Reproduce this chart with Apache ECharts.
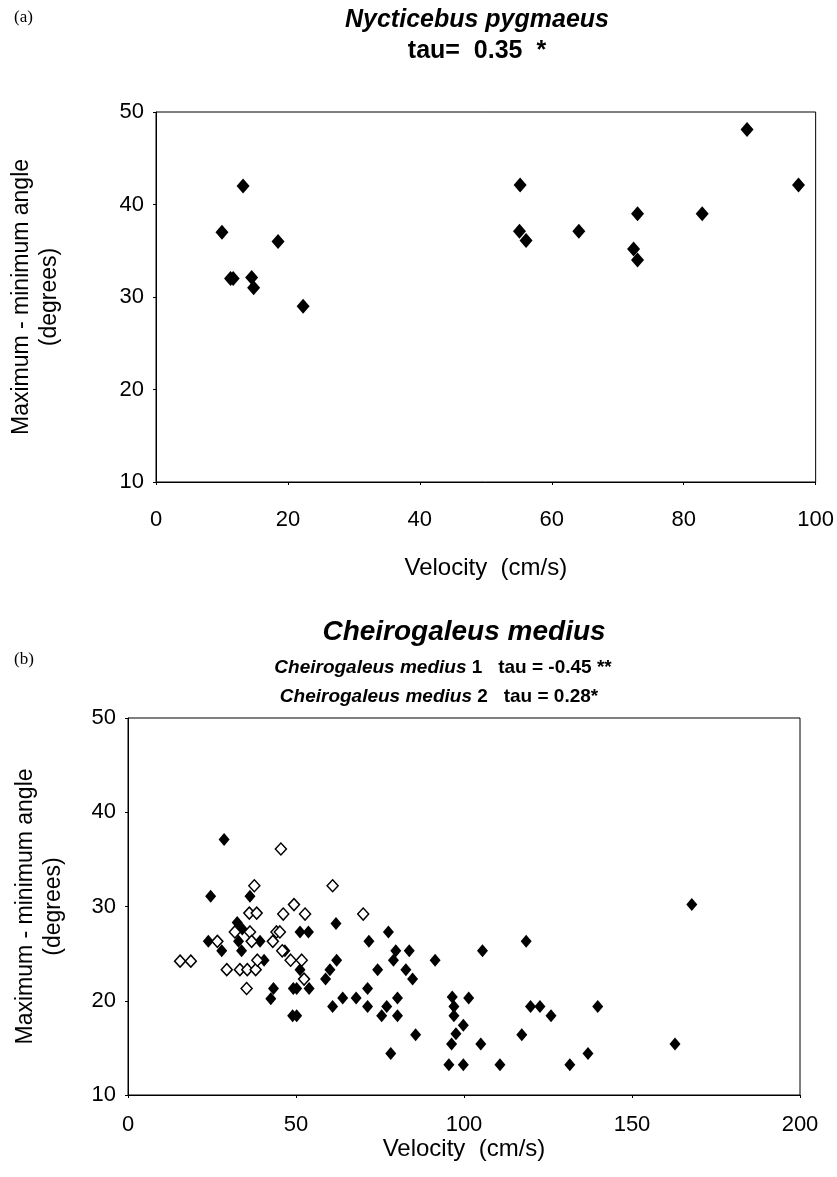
<!DOCTYPE html>
<html>
<head>
<meta charset="utf-8">
<script src="https://cdn.jsdelivr.net/npm/echarts@6.0.0/dist/echarts.min.js"></script>
<style>
  html, body { margin: 0; padding: 0; background: #fff; }
  #chart { width: 837px; height: 1177px; }
</style>
</head>
<body>
<div id="chart"></div>
<script>
// (a) Nycticebus pygmaeus
const pygmaeusVelocity = [10.0, 11.3, 11.7, 13.2, 14.5, 14.8, 18.5, 22.3, 55.2, 55.1, 56.1, 64.1, 72.4, 73.0, 73.0, 82.8, 89.6, 97.4];
const pygmaeusAngle    = [37.0, 32.0, 32.0, 42.0, 32.1, 31.0, 36.0, 29.0, 42.1, 37.1, 36.1, 37.1, 35.2, 34.0, 39.0, 39.0, 48.1, 42.1];

// (b) Cheirogaleus medius 1 (filled diamonds)
const medius1Velocity = [28.6, 24.6, 36.3, 32.5, 23.9, 27.9, 32.9, 33.8, 39.3, 40.5, 46.7, 51.2, 53.7, 61.9, 71.7, 77.5,
  79.7, 83.7, 79.0, 82.7, 84.7, 74.3, 62.1, 60.1, 58.8, 51.2, 43.3, 42.5, 49.2, 50.2, 53.9, 63.9, 67.9, 71.3, 60.9, 71.3,
  77.0, 80.2, 75.5, 80.2, 49.0, 50.2, 85.6, 78.2, 167.8, 118.5, 105.5, 91.4, 96.5, 101.4, 97.0, 119.8, 122.6, 125.9, 139.8,
  97.0, 99.8, 97.6, 96.3, 105.0, 117.2, 162.8, 136.9, 95.5, 99.8, 110.7, 131.5, 34.0];
const medius1Angle = [37.1, 31.1, 31.1, 28.3, 26.3, 25.3, 26.3, 25.3, 26.3, 24.3, 25.3, 27.3, 27.3, 28.2, 26.3, 27.3,
  25.3, 25.3, 24.3, 23.3, 22.3, 23.3, 24.3, 23.3, 22.3, 23.3, 21.3, 20.2, 21.3, 21.3, 21.3, 20.3, 20.3, 21.3, 19.4, 19.4,
  19.4, 20.3, 18.4, 18.4, 18.4, 18.4, 16.4, 14.4, 30.2, 26.3, 25.3, 24.3, 20.4, 20.3, 19.4, 19.4, 19.4, 18.4, 19.4,
  18.4, 17.4, 16.5, 15.4, 15.4, 16.4, 15.4, 14.4, 13.2, 13.2, 13.2, 13.2, 27.6];

// (b) Cheirogaleus medius 2 (open diamonds)
const medius2Velocity = [45.5, 37.6, 60.9, 49.4, 46.2, 52.7, 70.0, 36.1, 38.3, 15.5, 18.7, 26.6, 29.4, 33.3, 35.5, 38.0,
  35.3, 31.8, 36.3, 36.8, 38.5, 43.1, 44.2, 45.2, 45.9, 48.4, 51.7, 52.4];
const medius2Angle = [36.1, 32.2, 32.2, 30.2, 29.2, 29.2, 29.2, 29.3, 29.3, 24.2, 24.2, 26.3, 23.3, 23.3, 23.3, 23.3,
  21.3, 27.3, 27.3, 26.3, 24.3, 26.3, 27.3, 27.3, 25.3, 24.3, 24.3, 22.3];

// axis ranges [min, max, interval]
const velocityRangeA = [0, 100, 20];
const velocityRangeB = [0, 200, 50];
const angleRange = [10, 50, 10];

const FONT = '"Liberation Sans", Arial, Helvetica, sans-serif';

const toPairs = (xs, ys) => xs.map((x, i) => [x, ys[i]]);

const chart = echarts.init(document.getElementById('chart'), null, { renderer: 'canvas' });

const axisCommon = {
  type: 'value',
  axisLine: { show: true, lineStyle: { color: '#000', width: 1 } },
  axisTick: { show: true, length: 3, lineStyle: { color: '#000', width: 1 } },
  splitLine: { show: false },
  nameTextStyle: { color: '#000', fontSize: 23, fontFamily: FONT, lineHeight: 28 }
};

const xAxisFor = (grid, range, margin, nameGap) => Object.assign({}, axisCommon, {
  gridIndex: grid,
  min: range[0], max: range[1], interval: range[2],
  axisLabel: { color: '#000', fontSize: 22, fontFamily: FONT, margin: margin },
  name: 'Velocity  (cm/s)',
  nameLocation: 'middle',
  nameGap: nameGap,
  nameTextStyle: { color: '#000', fontSize: 24, fontFamily: FONT }
});

const yAxisFor = (grid, nameGap) => Object.assign({}, axisCommon, {
  gridIndex: grid,
  min: angleRange[0], max: angleRange[1], interval: angleRange[2],
  axisLabel: { color: '#000', fontSize: 22, fontFamily: FONT, margin: 12 },
  name: 'Maximum - minimum angle\n(degrees)',
  nameLocation: 'middle',
  nameRotate: 90,
  nameGap: nameGap
});

const option = {
  backgroundColor: '#fff',
  animation: false,
  grid: [
    { left: 148, top: 112, width: 670, height: 370, show: true, borderColor: '#000', borderWidth: 1 },
    { left: 128, top: 718, width: 672, height: 377, show: true, borderColor: '#000', borderWidth: 1 }
  ],
  xAxis: [
    xAxisFor(0, velocityRangeA, 27, 74),
    xAxisFor(1, velocityRangeB, 19, 42)
  ],
  yAxis: [
    yAxisFor(0, 92),
    yAxisFor(1, 60)
  ],
  graphic: [
    { type: 'text', x: 14, y: 18, style: { text: '(a)', font: '17px "Liberation Serif", serif', fill: '#000', textVerticalAlign: 'middle' } },
    { type: 'text', x: 477, y: 20, style: { text: 'Nycticebus pygmaeus', font: 'italic bold 25px ' + FONT, fill: '#000', textAlign: 'center', textVerticalAlign: 'middle' } },
    { type: 'text', x: 477, y: 51, style: { text: 'tau=  0.35  *', font: 'bold 25px ' + FONT, fill: '#000', textAlign: 'center', textVerticalAlign: 'middle' } },
    { type: 'text', x: 14, y: 660, style: { text: '(b)', font: '17px "Liberation Serif", serif', fill: '#000', textVerticalAlign: 'middle' } },
    { type: 'text', x: 464, y: 632, style: { text: 'Cheirogaleus medius', font: 'italic bold 28px ' + FONT, fill: '#000', textAlign: 'center', textVerticalAlign: 'middle' } },
    {
      type: 'text', x: 443, y: 668,
      style: {
        text: '{i|Cheirogaleus medius}{n| 1   tau = -0.45 **}',
        textAlign: 'center', textVerticalAlign: 'middle', fill: '#000',
        rich: {
          i: { fontStyle: 'italic', fontWeight: 'bold', fontSize: 19, fontFamily: FONT, fill: '#000' },
          n: { fontWeight: 'bold', fontSize: 19, fontFamily: FONT, fill: '#000' }
        }
      }
    },
    {
      type: 'text', x: 439, y: 697,
      style: {
        text: '{i|Cheirogaleus medius}{n| 2   tau = 0.28*}',
        textAlign: 'center', textVerticalAlign: 'middle', fill: '#000',
        rich: {
          i: { fontStyle: 'italic', fontWeight: 'bold', fontSize: 19, fontFamily: FONT, fill: '#000' },
          n: { fontWeight: 'bold', fontSize: 19, fontFamily: FONT, fill: '#000' }
        }
      }
    }
  ],
  series: [
    {
      name: 'Nycticebus pygmaeus',
      type: 'scatter',
      xAxisIndex: 0, yAxisIndex: 0,
      symbol: 'diamond',
      symbolSize: [13, 15],
      itemStyle: { color: '#000', opacity: 1 },
      data: toPairs(pygmaeusVelocity, pygmaeusAngle)
    },
    {
      name: 'Cheirogaleus medius 1',
      type: 'scatter',
      xAxisIndex: 1, yAxisIndex: 1,
      symbol: 'diamond',
      symbolSize: [11, 13],
      itemStyle: { color: '#000', opacity: 1 },
      data: toPairs(medius1Velocity, medius1Angle)
    },
    {
      name: 'Cheirogaleus medius 2',
      type: 'scatter',
      xAxisIndex: 1, yAxisIndex: 1,
      symbol: 'diamond',
      symbolSize: [11, 12],
      itemStyle: { color: '#fff', borderColor: '#000', borderWidth: 1.5, opacity: 1 },
      data: toPairs(medius2Velocity, medius2Angle)
    }
  ]
};

chart.setOption(option);
</script>
</body>
</html>
